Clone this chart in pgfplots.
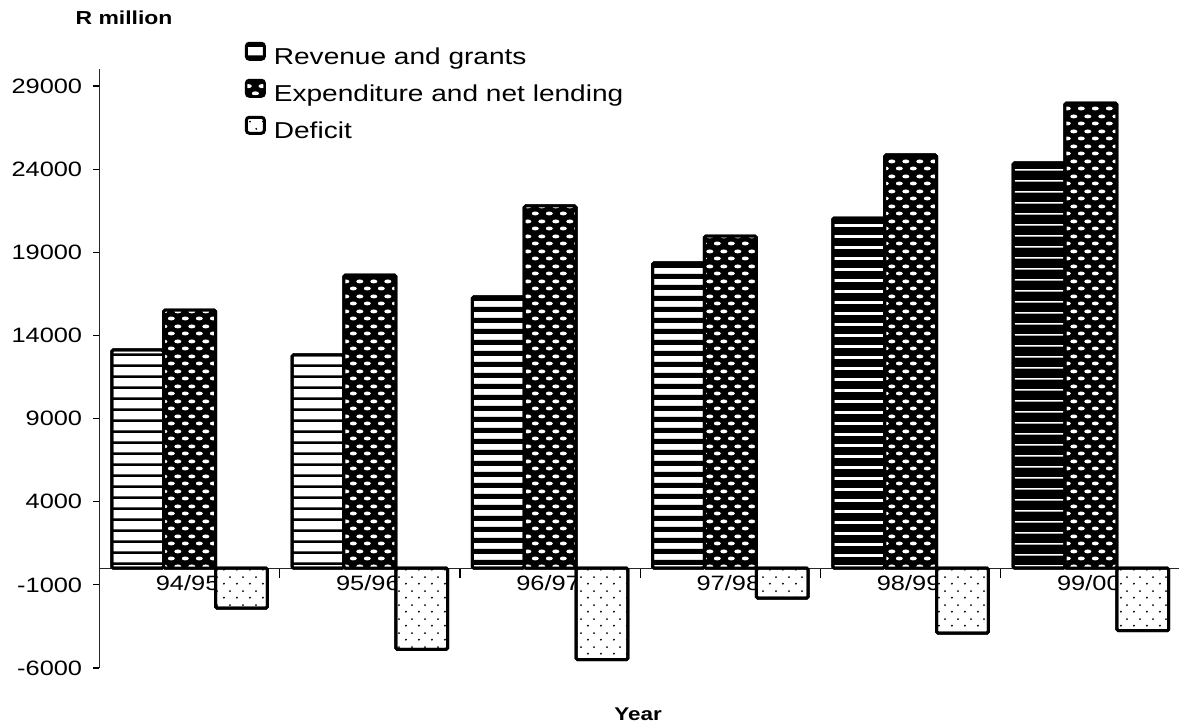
\documentclass[border=0pt]{standalone}
\usepackage{fontspec}
\setmainfont{Liberation Sans}[FakeStretch=1.22]
\usepackage{pgfplots}
\pgfplotsset{compat=1.18}
\usetikzlibrary{patterns,patterns.meta}

\pgfdeclarepattern{
  name=hlines, type=uncolored,
  bottom left={\pgfpoint{0pt}{0pt}}, top right={\pgfpoint{10pt}{5.4pt}},
  tile size={\pgfpoint{10pt}{5.4pt}},
  code={\pgfpathrectangle{\pgfpoint{-1pt}{0pt}}{\pgfpoint{12pt}{1.3pt}}\pgfusepath{fill}}
}
\pgfdeclarepattern{
  name=hlinesmid, type=uncolored,
  bottom left={\pgfpoint{0pt}{0pt}}, top right={\pgfpoint{10pt}{5.4pt}},
  tile size={\pgfpoint{10pt}{5.4pt}},
  code={\pgfpathrectangle{\pgfpoint{-1pt}{0pt}}{\pgfpoint{12pt}{2.6pt}}\pgfusepath{fill}}
}
\pgfdeclarepattern{
  name=hlinesdark, type=uncolored,
  bottom left={\pgfpoint{0pt}{0pt}}, top right={\pgfpoint{10pt}{5.4pt}},
  tile size={\pgfpoint{10pt}{5.4pt}},
  code={\pgfpathrectangle{\pgfpoint{-1pt}{0pt}}{\pgfpoint{12pt}{4.0pt}}\pgfusepath{fill}}
}
\pgfdeclarepattern{
  name=hlinesblack, type=uncolored,
  bottom left={\pgfpoint{0pt}{0pt}}, top right={\pgfpoint{10pt}{5.4pt}},
  tile size={\pgfpoint{10pt}{5.4pt}},
  code={\pgfpathrectangle{\pgfpoint{-1pt}{0pt}}{\pgfpoint{12pt}{4.8pt}}\pgfusepath{fill}}
}
\pgfdeclarepattern{
  name=ovals, type=uncolored,
  bottom left={\pgfpoint{0pt}{0pt}}, top right={\pgfpoint{7pt}{7.5pt}},
  tile size={\pgfpoint{7pt}{7.5pt}},
  code={
    \pgfpathellipse{\pgfpoint{1.75pt}{1.875pt}}{\pgfpoint{1.9pt}{0pt}}{\pgfpoint{0pt}{1.05pt}}
    \pgfpathellipse{\pgfpoint{5.25pt}{5.625pt}}{\pgfpoint{1.9pt}{0pt}}{\pgfpoint{0pt}{1.05pt}}
    \pgfusepath{fill}}
}
\pgfdeclarepattern{
  name=sdots, type=uncolored,
  bottom left={\pgfpoint{0pt}{0pt}}, top right={\pgfpoint{6.5pt}{7pt}},
  tile size={\pgfpoint{6.5pt}{7pt}},
  code={
    \pgfpathcircle{\pgfpoint{1.6pt}{1.75pt}}{0.55pt}
    \pgfpathcircle{\pgfpoint{4.85pt}{5.25pt}}{0.55pt}
    \pgfusepath{fill}}
}

\pgfplotstableread{
x rev exp def
0 13125 15530 -2400
1 12824 17635 -4880
2 16312 21785 -5500
3 18357 19980 -1800
4 21063 24852 -3900
5 24371 27979 -3760
}\budget

\pgfplotsset{
  myleg/.style={legend image code/.code={
    \draw[##1, line width=1pt, rounded corners=1.5pt] (0pt,-0.2pt) rectangle (9pt,7.8pt);
    \path (13pt,0pt);}},
  revbar/.style={bar shift=-0.288, draw=black, line width=1.5pt, rounded corners=0.8pt,
   preaction={fill=white}, pattern color=black},
}

\begin{document}
\begin{tikzpicture}
\useasboundingbox (-49.75pt,-29.5pt) rectangle (539.75pt,334pt);
\begin{axis}[
  at={(0pt,0pt)}, anchor=south west, scale only axis,
  width=540.75pt, height=299.3pt,
  xmin=-0.5, xmax=5.5, ymin=-6000, ymax=30000,
  axis x line=middle, axis y line=left,
  axis line style={-, line width=0.7pt, black!85},
  ytick={-6000,-1000,4000,9000,14000,19000,24000,29000},
  scaled y ticks=false,
  ytick align=outside, major tick length=3pt,
  y tick style={line width=0.6pt, black},
  xtick={0,1,2,3,4,5},
  xticklabels={94/95,95/96,96/97,97/98,98/99,99/00},
  minor xtick={0.5,1.5,2.5,3.5,4.5},
  major x tick style={draw=none},
  minor tick length=5pt,
  minor x tick style={line width=0.6pt, black},
  ticklabel style={font=\fontsize{10.4}{12}\selectfont},
  yticklabel style={anchor=east, inner sep=0pt, xshift=-5.5pt},
  xticklabel style={anchor=north, inner sep=0pt, yshift=-0.5pt, xshift=-1pt},
  /pgf/number format/.cd, 1000 sep={}, assume math mode=true, /pgfplots/.cd,
  ylabel={R million},
  every axis y label/.style={at={(axis description cs:0.0227,1.086)}, anchor=center,
     font=\bfseries\fontsize{9.4}{11}\selectfont},
  xlabel={Year},
  every axis x label/.style={at={(axis description cs:0.498,-0.0768)}, anchor=center,
     font=\bfseries\fontsize{9.2}{11}\selectfont},
  ybar, bar width=0.288,
  every axis plot post/.append style={myleg},
  legend style={at={(axis description cs:0.1345,1.046)}, anchor=north west,
     draw=none, fill=none, inner sep=0pt, row sep=4.8pt,
     nodes={inner sep=0pt, text height=8.4pt, text depth=2.4pt},
     font=\fontsize{11.5}{13}\selectfont},
  legend cell align=left,
  clip=false,
]
\addplot[revbar, pattern=hlines]
   table[x=x, y=rev, restrict x to domain=0:1] {\budget};
\addlegendentry{Revenue and grants}
\addplot[bar shift=0, draw=black, line width=1.5pt, rounded corners=0.8pt,
   preaction={fill=black}, pattern=ovals, pattern color=white]
   table[x=x, y=exp] {\budget};
\addlegendentry{Expenditure and net lending}
\addplot[bar shift=0.288, draw=black, line width=1.5pt, rounded corners=0.8pt,
   preaction={fill=white}, pattern=sdots, pattern color=black]
   table[x=x, y=def] {\budget};
\addlegendentry{Deficit}
\addplot[revbar, pattern=hlinesmid, forget plot]
   table[x=x, y=rev, restrict x to domain=2:3] {\budget};
\addplot[revbar, pattern=hlinesdark, forget plot]
   table[x=x, y=rev, restrict x to domain=4:4] {\budget};
\addplot[revbar, pattern=hlinesblack, forget plot]
   table[x=x, y=rev, restrict x to domain=5:5] {\budget};
\end{axis}
\end{tikzpicture}
\end{document}
